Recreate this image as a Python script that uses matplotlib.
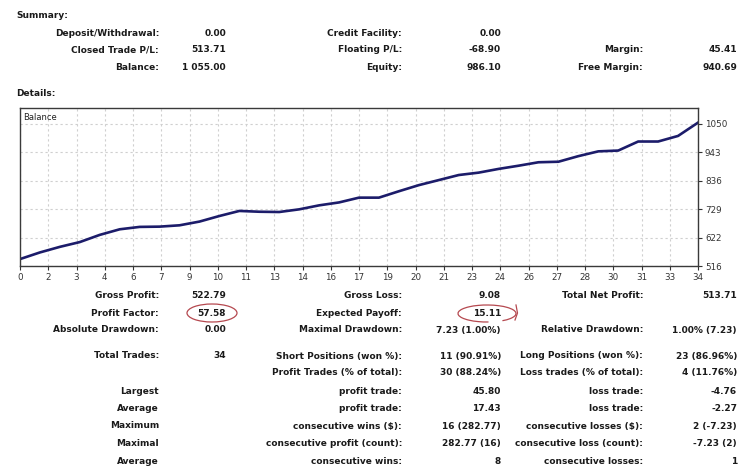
import matplotlib
matplotlib.use("Agg")
import matplotlib.pyplot as plt
from matplotlib.patches import Ellipse, Arc
import numpy as np

# ---- data ----
trade_idx = list(range(35))
balance = [542, 567, 588, 606, 633, 654, 663, 664, 669, 683, 704, 723, 720, 719,
           729, 744, 755, 773, 773, 797, 820, 839, 858, 867, 881, 893, 906, 908,
           929, 947, 950, 984, 984, 1005, 1055]
x_tick_labels = ['0', '2', '3', '4', '6', '7', '9', '10', '11', '13', '14', '16', '17',
                 '19', '20', '21', '23', '24', '26', '27', '28', '30', '31', '33', '34']
y_ticks = [516, 622, 729, 836, 943, 1050]

summary_rows = [
    ["Deposit/Withdrawal:", "0.00", "Credit Facility:", "0.00", "", ""],
    ["Closed Trade P/L:", "513.71", "Floating P/L:", "-68.90", "Margin:", "45.41"],
    ["Balance:", "1 055.00", "Equity:", "986.10", "Free Margin:", "940.69"],
]
detail_rows = [
    ["Gross Profit:", "522.79", "Gross Loss:", "9.08", "Total Net Profit:", "513.71"],
    ["Profit Factor:", "57.58", "Expected Payoff:", "15.11", "", ""],
    ["Absolute Drawdown:", "0.00", "Maximal Drawdown:", "7.23 (1.00%)", "Relative Drawdown:", "1.00% (7.23)"],
    ["Total Trades:", "34", "Short Positions (won %):", "11 (90.91%)", "Long Positions (won %):", "23 (86.96%)"],
    ["", "", "Profit Trades (% of total):", "30 (88.24%)", "Loss trades (% of total):", "4 (11.76%)"],
    ["Largest", "", "profit trade:", "45.80", "loss trade:", "-4.76"],
    ["Average", "", "profit trade:", "17.43", "loss trade:", "-2.27"],
    ["Maximum", "", "consecutive wins ($):", "16 (282.77)", "consecutive losses ($):", "2 (-7.23)"],
    ["Maximal", "", "consecutive profit (count):", "282.77 (16)", "consecutive loss (count):", "-7.23 (2)"],
    ["Average", "", "consecutive wins:", "8", "consecutive losses:", "1"],
]

W, H = 750, 471
fig = plt.figure(figsize=(W / 100, H / 100), dpi=100)
fig.patch.set_facecolor('white')

# ---- chart ----
ax = fig.add_axes([20 / W, 1 - 266 / H, 678 / W, 158 / H])
ax.plot(trade_idx, balance, color='#1c1c6a', lw=1.9, solid_joinstyle='round')
ax.set_xlim(0, 34)
ax.set_ylim(516, 1110)
ax.set_xticks(np.linspace(0, 34, len(x_tick_labels)))
ax.set_xticklabels(x_tick_labels)
ax.set_yticks(y_ticks)
ax.set_yticklabels([str(v) for v in y_ticks])
ax.yaxis.tick_right()
ax.tick_params(axis='both', labelsize=6.3, colors='#333333', length=3, width=0.8, pad=2)
ax.grid(True, color='#cfcfcf', linestyle=(0, (2, 2.5)), lw=0.8)
for s in ax.spines.values():
    s.set_color('#3a3a3a')
    s.set_linewidth(1.0)
ax.text(0.005, 0.97, "Balance", transform=ax.transAxes, fontsize=6, color='#222222',
        ha='left', va='top')

# ---- text overlay in pixel coords ----
tx = fig.add_axes([0, 0, 1, 1], facecolor='none')
tx.set_xlim(0, W)
tx.set_ylim(H, 0)
tx.axis('off')

fs = 6.5
col = '#1a1a1a'
kw = dict(fontsize=fs, fontweight='bold', color=col, va='center', ha='right')
col_x = [159, 226, 402, 501, 643, 737]

tx.text(16, 15, "Summary:", fontsize=fs, fontweight='bold', color=col, va='center', ha='left')
for row, y in zip(summary_rows, [33, 50, 67]):
    for t, x in zip(row, col_x):
        if t:
            tx.text(x, y, t, **kw)
tx.text(16, 93, "Details:", fontsize=fs, fontweight='bold', color=col, va='center', ha='left')

detail_y = [295, 313, 330, 356, 373, 391, 408.5, 426, 443.5, 461.5]
for row, y in zip(detail_rows, detail_y):
    for t, x in zip(row, col_x):
        if t:
            tx.text(x, y, t, **kw)

# red hand-drawn circles
tx.add_patch(Ellipse((212, 313), 50, 18, fill=False, edgecolor='#b5484f', lw=0.9))
tx.add_patch(Arc((487, 313.5), 58, 17, theta1=80, theta2=385, edgecolor='#b5484f', lw=0.9))
tx.plot([516, 517.5, 515], [305, 313, 320], color='#b5484f', lw=0.9)

fig.savefig("out.png", dpi=100)
